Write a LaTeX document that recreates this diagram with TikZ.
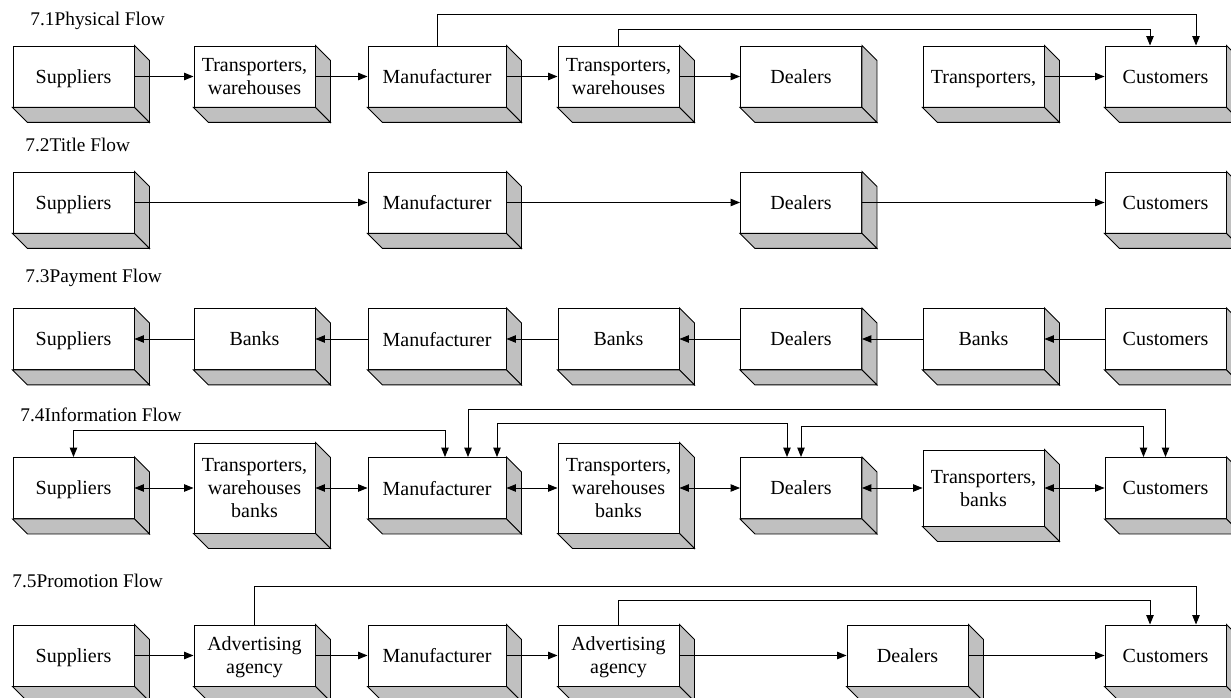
\documentclass[tikz,border=0pt]{standalone}
\usepackage{fontspec}
\setmainfont{Liberation Serif}
\usetikzlibrary{arrows.meta}
\definecolor{facegray}{HTML}{C0C0C0}

\begin{document}
\begin{tikzpicture}[
  x=0.75pt, y=-0.75pt,
  line width=0.7pt,
  slab/.style={draw, fill=white, minimum width=90.75pt, minimum height=45.75pt, inner sep=1pt, text depth=0pt, align=center, font=\fontsize{15}{17.25}\selectfont},
  wide/.style={slab, minimum width=103.5pt},
  tall/.style={slab, minimum height=67.5pt},
  title/.style={anchor=west, inner sep=0pt, font=\fontsize{14.5}{17}\selectfont},
  ->, >={Triangle[length=7pt, width=5.5pt]}
]
\useasboundingbox (0,0) rectangle (1231,698);

% 7.1 physical flow
\node[title] (t1) at (30,21) {7.1Physical Flow};
\node[slab] (sup1) at (73.5,76.5) {Suppliers};
\node[slab] (tra1) at (254.5,76.5) {Transporters,\\warehouses};
\node[wide] (man1) at (437,76.5) {Manufacturer};
\node[slab] (trb1) at (618.5,76.5) {Transporters,\\warehouses};
\node[slab] (dea1) at (801,76.5) {Dealers};
\node[slab] (trc1) at (983.5,76.5) {Transporters,};
\node[slab] (cus1) at (1165.5,76.5) {Customers};

% 7.2 title flow
\node[title] (t2) at (25,145) {7.2Title Flow};
\node[slab] (sup2) at (73.5,202.5) {Suppliers};
\node[wide] (man2) at (437,202.5) {Manufacturer};
\node[slab] (dea2) at (801,202.5) {Dealers};
\node[slab] (cus2) at (1165.5,202.5) {Customers};

% 7.3 payment flow
\node[title] (t3) at (25,278) {7.3Payment Flow};
\node[slab] (sup3) at (73.5,339) {Suppliers};
\node[slab] (ban3a) at (254.5,339) {Banks};
\node[wide] (man3) at (437,339) {Manufacturer};
\node[slab] (ban3b) at (618.5,339) {Banks};
\node[slab] (dea3) at (801,339) {Dealers};
\node[slab] (ban3c) at (983.5,339) {Banks};
\node[slab] (cus3) at (1165.5,339) {Customers};

% 7.4 information flow
\node[title] (t4) at (20,415) {7.4Information Flow};
\node[slab] (sup4) at (73.5,488) {Suppliers};
\node[tall] (tra4) at (254.5,488) {Transporters,\\warehouses\\banks};
\node[wide] (man4) at (437,488) {Manufacturer};
\node[tall] (trb4) at (618.5,488) {Transporters,\\warehouses\\banks};
\node[slab] (dea4) at (801,488) {Dealers};
\node[slab, minimum height=57pt] (trc4) at (983.5,488) {Transporters,\\banks};
\node[slab] (cus4) at (1165.5,488) {Customers};

% 7.5 promotion flow
\node[title] (t5) at (12,581) {7.5Promotion Flow};
\node[slab] (sup5) at (73.5,655.5) {Suppliers};
\node[slab] (adv5) at (254.5,655.5) {Advertising\\agency};
\node[wide] (man5) at (437,655.5) {Manufacturer};
\node[slab] (adb5) at (618.5,655.5) {Advertising\\agency};
\node[slab] (dea5) at (907.5,655.5) {Dealers};
\node[slab] (cus5) at (1165.5,655.5) {Customers};

% shaded side and bottom faces
\foreach \n in {sup1,tra1,man1,trb1,dea1,trc1,cus1,sup2,man2,dea2,cus2,
  sup3,ban3a,man3,ban3b,dea3,ban3c,cus3,sup4,tra4,man4,trb4,dea4,trc4,cus4,
  sup5,adv5,man5,adb5,dea5,cus5} {
  \draw[-, fill=facegray] (\n.north east) -- ++(15,15) -- ([shift={(15,15)}]\n.south east) -- (\n.south east) -- cycle;
  \draw[-, fill=facegray] (\n.south west) -- ++(15,15) -- ([shift={(15,15)}]\n.south east) -- (\n.south east) -- cycle;
}

% connectors
\draw (sup1.east) -- (tra1.west);
\draw (tra1.east) -- (man1.west);
\draw (man1.east) -- (trb1.west);
\draw (trb1.east) -- (dea1.west);
\draw (trc1.east) -- (cus1.west);
\draw (man1.north) -- ++(0,-31) -| ([shift={(30.5,0)}]cus1.north);
\draw (trb1.north) -- ++(0,-16) -| ([shift={(-15.5,0)}]cus1.north);

\draw (sup2.east) -- (man2.west);
\draw (man2.east) -- (dea2.west);
\draw (dea2.east) -- (cus2.west);

\draw (cus3.west) -- (ban3c.east);
\draw (ban3c.west) -- (dea3.east);
\draw (dea3.west) -- (ban3b.east);
\draw (ban3b.west) -- (man3.east);
\draw (man3.west) -- (ban3a.east);
\draw (ban3a.west) -- (sup3.east);

\draw[<->] (sup4.east) -- (tra4.west);
\draw[<->] (tra4.east) -- (man4.west);
\draw[<->] (man4.east) -- (trb4.west);
\draw[<->] (trb4.east) -- (dea4.west);
\draw[<->] (dea4.east) -- (trc4.west);
\draw[<->] (trc4.east) -- (cus4.west);
\draw[<->] (sup4.north) -- ++(0,-27) -| ([shift={(8,0)}]man4.north);
\draw[<->] ([shift={(31,0)}]man4.north) -- ++(0,-48) -| (cus4.north);
\draw[<->] ([shift={(60,0)}]man4.north) -- ++(0,-34) -| ([shift={(-14,0)}]dea4.north);
\draw[<->] (dea4.north) -- ++(0,-31) -| ([shift={(-22,0)}]cus4.north);

\draw (sup5.east) -- (adv5.west);
\draw (adv5.east) -- (man5.west);
\draw (man5.east) -- (adb5.west);
\draw (adb5.east) -- (dea5.west);
\draw (dea5.east) -- (cus5.west);
\draw (adv5.north) -- ++(0,-38) -| ([shift={(30.5,0)}]cus5.north);
\draw (adb5.north) -- ++(0,-24) -| ([shift={(-15.5,0)}]cus5.north);
\end{tikzpicture}
\end{document}
